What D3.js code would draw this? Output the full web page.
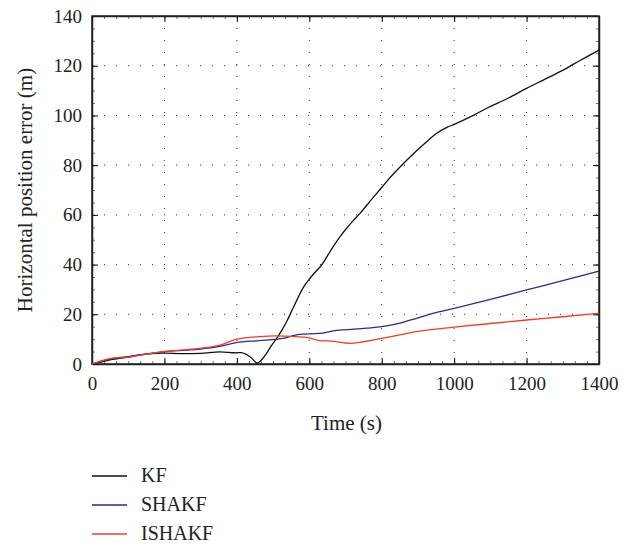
<!DOCTYPE html>
<html>
<head>
<meta charset="utf-8">
<script src="https://cdn.jsdelivr.net/npm/d3@7"></script>
<style>
  body { margin: 0; background: #fff; }
  text { font-family: "Liberation Serif", "DejaVu Serif", serif; fill: #222; }
</style>
</head>
<body>
<div id="graph"></div>
<script>
// values: [time (s), horizontal position error (m)]
const kfData = [[0,0],[25,0.8],[50,1.7],[100,2.8],[145,3.9],[200,4.4],[250,4.2],[300,4.3],[353,4.9],[398,4.5],[412,4.6],[425,4.0],[440,2.5],[456,0.4],[470,2.0],[482,4.3],[496,7.5],[510,10.3],[524,13.5],[538,17.2],[552,21.5],[565,25.5],[576,28.8],[588,31.8],[602,34.5],[618,37.2],[634,39.8],[650,43.5],[666,47.2],[685,51.2],[703,54.6],[722,57.8],[740,60.6],[768,65.5],[800,71],[814,73.5],[869,82],[924,89.4],[952,92.8],[980,95.2],[1000,96.4],[1050,99.8],[1090,102.9],[1150,107],[1200,110.9],[1250,114.5],[1302,118.3],[1350,122.3],[1400,126.3]];
const shakfData = [[0,0],[44,1.9],[109,3.2],[145,4.0],[201,5.0],[265,5.6],[298,6.0],[353,7.1],[398,8.6],[462,9.4],[526,10.3],[573,11.9],[629,12.3],[666,13.3],[758,14.4],[800,15.0],[850,16.4],[896,18.4],[942,20.4],[1000,22.4],[1100,26],[1200,29.8],[1300,33.5],[1400,37.4]];
const ishakfData = [[0,0],[44,2.0],[109,2.9],[145,3.8],[201,5.1],[265,5.8],[298,6.3],[353,7.6],[398,9.9],[462,11.0],[508,11.3],[565,11.0],[592,10.7],[629,9.4],[660,9.2],[712,8.3],[800,10.3],[896,13],[1000,14.8],[1100,16.3],[1200,17.7],[1300,19],[1400,20.4]];

const seriesNames = ["KF", "SHAKF", "ISHAKF"];
const seriesColors = ["#111111", "#2e2a8c", "#f23c22"];
const xTicks = [0, 200, 400, 600, 800, 1000, 1200, 1400];
const yTicks = [0, 20, 40, 60, 80, 100, 120, 140];

const width = 638, height = 544;
const margin = { left: 92, right: 39, top: 16, bottom: 180 };
const w = width - margin.left - margin.right;
const h = height - margin.top - margin.bottom;
const serif = '"Liberation Serif", "DejaVu Serif", serif';

const svg = d3.select("#graph")
  .append("svg")
  .attr("width", width)
  .attr("height", height);

const g = svg.append("g")
  .attr("transform", "translate(" + margin.left + "," + margin.top + ")");

const x = d3.scaleLinear().domain([0, 1400]).range([0, w]);
const y = d3.scaleLinear().domain([0, 140]).range([h, 0]);

// dotted grid
g.selectAll(".gx")
  .data(xTicks.slice(1, -1))
  .enter()
  .append("line")
    .attr("x1", d => x(d)).attr("x2", d => x(d))
    .attr("y1", 0).attr("y2", h)
    .attr("stroke", "#333").attr("stroke-width", 1)
    .attr("stroke-dasharray", "1,11");

g.selectAll(".gy")
  .data(yTicks.slice(1, -1))
  .enter()
  .append("line")
    .attr("x1", 0).attr("x2", w)
    .attr("y1", d => y(d)).attr("y2", d => y(d))
    .attr("stroke", "#333").attr("stroke-width", 1)
    .attr("stroke-dasharray", "1,11");

// minor ticks
const xMinor = d3.range(0, 1400, 200 / 6);
const yMinor = d3.range(0, 140, 5);
function minor(axis, scale, vals, tx) {
  g.append("g")
    .attr("transform", tx)
    .call(axis(scale).tickValues(vals).tickSize(3).tickFormat(""))
    .call(s => s.select(".domain").remove())
    .selectAll("line").attr("stroke", "#777");
}
minor(d3.axisTop, x, xMinor, "translate(0," + h + ")");
minor(d3.axisBottom, x, xMinor, "translate(0,0)");
minor(d3.axisRight, y, yMinor, "translate(0,0)");
minor(d3.axisLeft, y, yMinor, "translate(" + w + ",0)");

// major ticks (inward) with labels
const xAxis = g.append("g")
  .attr("transform", "translate(0," + h + ")")
  .call(d3.axisBottom(x).tickValues(xTicks).tickFormat(d3.format("d"))
    .tickSizeInner(-6).tickSizeOuter(0).tickPadding(13));

const yAxis = g.append("g")
  .call(d3.axisLeft(y).tickValues(yTicks).tickFormat(d3.format("d"))
    .tickSizeInner(-6).tickSizeOuter(0).tickPadding(10));

[xAxis, yAxis].forEach(a => {
  a.attr("font-family", serif);
  a.selectAll("text")
    .attr("font-family", serif)
    .style("font-family", serif)
    .style("font-size", "19px")
    .attr("fill", "#222");
});

g.append("g")
  .call(d3.axisTop(x).tickValues(xTicks).tickSizeInner(-6).tickSizeOuter(0).tickFormat(""));
g.append("g")
  .attr("transform", "translate(" + w + ",0)")
  .call(d3.axisRight(y).tickValues(yTicks).tickSizeInner(-6).tickSizeOuter(0).tickFormat(""));

g.selectAll(".domain").attr("stroke", "#222").attr("stroke-width", 1.5);
g.selectAll(".tick line").attr("stroke-width", 1);

// frame
g.append("rect")
  .attr("width", w).attr("height", h)
  .attr("fill", "none").attr("stroke", "#222").attr("stroke-width", 1.5);

// lines
const line = d3.line()
  .x(d => x(d[0]))
  .y(d => y(d[1]))
  .curve(d3.curveMonotoneX);

const allData = [kfData, shakfData, ishakfData];
g.selectAll(".series")
  .data(allData)
  .enter()
  .append("path")
    .attr("d", line)
    .attr("fill", "none")
    .attr("stroke", (d, i) => seriesColors[i])
    .attr("stroke-width", 1.3);

// axis titles
svg.append("text")
  .attr("x", margin.left + w / 2 + 1)
  .attr("y", 430)
  .attr("text-anchor", "middle")
  .style("font-size", "21px")
  .text("Time (s)");

svg.append("text")
  .attr("transform", "translate(32," + (margin.top + h / 2) + ")rotate(-90)")
  .attr("text-anchor", "middle")
  .style("font-size", "21px")
  .text("Horizontal position error (m)");

// legend
const legend = svg.selectAll(".legend")
  .data(seriesNames)
  .enter()
  .append("g")
    .attr("transform", (d, i) => "translate(92," + (476 + i * 29) + ")");

legend.append("line")
  .attr("x1", 0).attr("x2", 35)
  .attr("stroke", (d, i) => seriesColors[i])
  .attr("stroke-width", 1.3);

legend.append("text")
  .attr("x", 49)
  .attr("y", 6)
  .style("font-size", "20px")
  .text(d => d);
</script>
</body>
</html>
